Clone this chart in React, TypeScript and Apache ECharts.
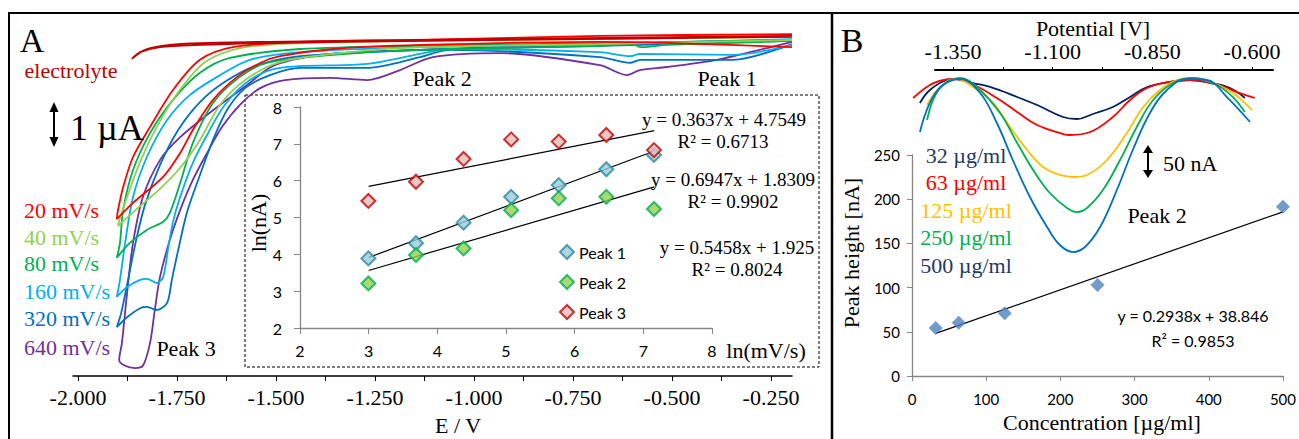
import { useEffect, useRef } from "react";
import * as echarts from "echarts";

type Pt = [number, number];

// ---------- Panel A: cyclic voltammograms, E (V) vs I (µA) ----------
const cvElectrolyte: Pt[] = [
  [-0.197, 0.07], [-1.136, -0.02], [-1.523, -0.07], [-1.692, -0.11], [-1.793, -0.16], [-1.843, -0.27], [-1.864, -0.42],
  [-1.831, -0.22], [-1.768, -0.11], [-1.692, -0.07], [-1.523, -0.04], [-1.136, 0], [-0.197, 0.09],
];
const cv20: Pt[] = [
  [-0.197, 0.13], [-0.682, 0.09], [-1.136, 0], [-1.439, -0.04], [-1.609, -0.16], [-1.692, -0.44], [-1.76, -1.11],
  [-1.818, -1.93], [-1.861, -2.6], [-1.886, -3.27], [-1.899, -3.78], [-1.902, -3.98],
  [-1.861, -3.62], [-1.785, -3.04], [-1.742, -2.51], [-1.71, -2.0], [-1.659, -1.33], [-1.598, -0.82], [-1.54, -0.51],
  [-1.49, -0.36], [-1.356, -0.2], [-1.136, -0.11], [-0.682, -0.04], [-0.197, -0.16],
];
const cv40: Pt[] = [
  [-0.197, 0.07], [-0.682, 0.02], [-1.136, -0.02], [-1.439, -0.07], [-1.591, -0.18], [-1.679, -0.49], [-1.747, -1.16],
  [-1.801, -1.93], [-1.843, -2.71], [-1.876, -3.49], [-1.894, -3.96], [-1.899, -4.13],
  [-1.843, -3.69], [-1.793, -3.31], [-1.742, -2.84], [-1.692, -2.22], [-1.641, -1.44], [-1.578, -0.89], [-1.49, -0.49],
  [-1.313, -0.27], [-1.136, -0.16], [-0.682, -0.09], [-0.197, 0],
];
const cv80: Pt[] = [
  [-0.197, 0], [-0.682, -0.07], [-1.136, -0.13], [-1.439, -0.2], [-1.616, -0.4], [-1.692, -0.73], [-1.76, -1.33],
  [-1.818, -2.07], [-1.861, -2.89], [-1.886, -3.78], [-1.894, -4.51], [-1.902, -4.84],
  [-1.869, -4.51], [-1.826, -4.22], [-1.785, -4.04], [-1.768, -3.84], [-1.742, -3.18], [-1.71, -2.29], [-1.659, -1.4],
  [-1.591, -0.82], [-1.523, -0.51], [-1.356, -0.33], [-1.136, -0.22], [-0.682, -0.13], [-0.598, -0.09],
  [-0.581, -0.16], [-0.513, -0.11], [-0.197, -0.02],
];
const cv160: Pt[] = [
  [-0.197, 0.02], [-0.682, -0.09], [-1.136, -0.16], [-1.439, -0.27], [-1.566, -0.44], [-1.641, -0.78], [-1.717, -1.22],
  [-1.775, -1.78], [-1.826, -2.6], [-1.861, -3.49], [-1.881, -4.51], [-1.894, -5.33], [-1.902, -5.71],
  [-1.876, -5.49], [-1.843, -5.33], [-1.826, -5.31], [-1.801, -5.4], [-1.785, -5.27], [-1.773, -4.67], [-1.76, -4.04],
  [-1.742, -3.49], [-1.71, -2.73], [-1.674, -2.11], [-1.629, -1.44], [-1.566, -0.89], [-1.49, -0.62], [-1.27, -0.53],
  [-1.136, -0.31], [-1.061, -0.2], [-0.682, -0.27], [-0.606, -0.36], [-0.581, -0.31], [-0.346, -0.33], [-0.197, -0.11],
];
const cv320: Pt[] = [
  [-0.197, -0.02], [-0.682, -0.13], [-1.136, -0.22], [-1.439, -0.36], [-1.553, -0.58], [-1.629, -0.93], [-1.692, -1.38],
  [-1.747, -2.0], [-1.793, -2.78], [-1.831, -3.67], [-1.856, -4.56], [-1.876, -5.44], [-1.891, -6.07], [-1.902, -6.38],
  [-1.876, -6.16], [-1.843, -5.96], [-1.826, -5.93], [-1.801, -6.0], [-1.775, -5.84], [-1.763, -5.33], [-1.747, -4.67],
  [-1.725, -3.84], [-1.692, -3.0], [-1.659, -2.22], [-1.624, -1.56], [-1.578, -1.07], [-1.515, -0.78], [-1.439, -0.62],
  [-1.27, -0.62], [-1.136, -0.38], [-1.061, -0.22], [-0.682, -0.38], [-0.606, -0.51], [-0.581, -0.44], [-0.346, -0.44],
  [-0.197, -0.09],
];
const cv640: Pt[] = [
  [-0.197, 0], [-0.682, -0.09], [-1.136, -0.22], [-1.364, -0.31], [-1.503, -0.56], [-1.573, -1.0], [-1.659, -1.56],
  [-1.742, -2.16], [-1.793, -2.67], [-1.836, -3.49], [-1.861, -4.51], [-1.876, -5.62], [-1.889, -6.73], [-1.896, -7.11],
  [-1.881, -7.24], [-1.856, -7.29], [-1.836, -7.24], [-1.818, -6.73], [-1.806, -6.0], [-1.793, -5.27], [-1.768, -4.44],
  [-1.742, -3.78], [-1.71, -3.11], [-1.674, -2.51], [-1.636, -1.93], [-1.591, -1.44], [-1.54, -1.07], [-1.477, -0.89],
  [-1.364, -0.84], [-1.27, -0.89], [-1.187, -0.67], [-1.104, -0.38], [-0.934, -0.29], [-0.682, -0.56], [-0.614, -0.78],
  [-0.581, -0.67], [-0.513, -0.6], [-0.386, -0.44], [-0.26, -0.18], [-0.197, -0.04],
];
const scanRateNames = ["640 mV/s", "320 mV/s", "160 mV/s", "80 mV/s", "40 mV/s", "20 mV/s", "electrolyte"];
const scanRateCurves = [cv640, cv320, cv160, cv80, cv40, cv20, cvElectrolyte];
const scanRateColors = ["#7030A0", "#0070C0", "#00B0F0", "#00B050", "#92D050", "#FF0000", "#C00000"];
const scanRateLabels = ["20 mV/s", "40 mV/s", "80 mV/s", "160 mV/s", "320 mV/s", "640 mV/s"];
const scanRateLabelColors = ["#FF0000", "#92D050", "#00B050", "#00B0F0", "#0070C0", "#7030A0"];
const potentialTicksA = [-2, -1.875, -1.75, -1.625, -1.5, -1.375, -1.25, -1.125, -1, -0.875, -0.75, -0.625, -0.5, -0.375, -0.25];
const potentialLabelsA = [-2, -1.75, -1.5, -1.25, -1, -0.75, -0.5, -0.25];

// ---------- Inset: ln(peak current) vs ln(scan rate) ----------
const lnScanRate = [2.996, 3.689, 4.382, 5.075, 5.768, 6.461, 7.155];
const lnPeak1 = [3.89, 4.3, 4.86, 5.56, 5.88, 6.31, 6.7];
const lnPeak2 = [3.21, 3.98, 4.16, 5.2, 5.52, 5.56, 5.23];
const lnPeak3 = [5.45, 5.97, 6.59, 7.12, 7.06, 7.24, 6.83];
const fitPeak1: Pt[] = [[3.0, 3.915], [7.16, 6.805]];
const fitPeak2: Pt[] = [[3.0, 3.562], [7.16, 5.833]];
const fitPeak3: Pt[] = [[3.0, 5.846], [7.16, 7.359]];

// ---------- Panel B: DPV curves, E (V) vs I (nA) ----------
const dpv32: Pt[] = [
  [-1.433, -35.9], [-1.408, -15.6], [-1.365, 0], [-1.34, 1.6], [-1.3, -4.7], [-1.257, -10.9], [-1.189, -26.6],
  [-1.139, -39.1], [-1.074, -57.8], [-1.039, -60.9], [-0.999, -53.1], [-0.949, -42.2], [-0.906, -26.6], [-0.863, -10.9],
  [-0.806, -3.1], [-0.756, 0], [-0.705, -4.7], [-0.655, -12.5], [-0.618, -28.1],
];
const dpv63: Pt[] = [
  [-1.45, -28.1], [-1.408, -7.8], [-1.375, 0], [-1.35, 1.6], [-1.307, -4.7], [-1.24, -28.1], [-1.189, -50],
  [-1.139, -70.3], [-1.074, -84.4], [-1.057, -85.9], [-1.006, -81.3], [-0.949, -57.8], [-0.906, -31.3], [-0.863, -12.5],
  [-0.806, -3.1], [-0.756, 0], [-0.698, -4.7], [-0.638, -18.8], [-0.593, -28.1],
];
const dpv125: Pt[] = [
  [-1.415, -39.1], [-1.39, -15.6], [-1.358, 0], [-1.34, 1.6], [-1.3, -10.9], [-1.25, -35.9], [-1.207, -73.4],
  [-1.164, -109.4], [-1.124, -135.9], [-1.082, -148.4], [-1.049, -151.6], [-1.014, -148.4], [-0.964, -125],
  [-0.914, -82.8], [-0.873, -42.2], [-0.831, -15.6], [-0.788, 0], [-0.748, 3.1], [-0.698, -4.7], [-0.648, -20.3],
  [-0.6, -46.9],
];
const dpv250: Pt[] = [
  [-1.415, -62.5], [-1.4, -31.3], [-1.375, -7.8], [-1.332, 3.1], [-1.29, -10.9], [-1.232, -51.6], [-1.189, -98.4],
  [-1.149, -140.6], [-1.107, -176.6], [-1.064, -200], [-1.039, -206.3], [-1.014, -200], [-0.974, -171.9],
  [-0.931, -125], [-0.889, -73.4], [-0.848, -31.3], [-0.798, -4.7], [-0.748, 3.1], [-0.688, -7.8], [-0.648, -26.6],
  [-0.618, -50],
];
const dpv500: Pt[] = [
  [-1.433, -81.3], [-1.408, -35.9], [-1.375, -7.8], [-1.332, 1.6], [-1.282, -20.3], [-1.24, -67.2], [-1.2, -125],
  [-1.157, -182.8], [-1.114, -229.7], [-1.082, -257.8], [-1.049, -268.8], [-1.019, -260.9], [-0.981, -229.7],
  [-0.939, -171.9], [-0.899, -109.4], [-0.856, -51.6], [-0.813, -15.6], [-0.763, 1.6], [-0.713, 0], [-0.663, -26.6],
  [-0.605, -65.6],
];
const dpvCurves = [dpv32, dpv63, dpv125, dpv250, dpv500];
const dpvColors = ["#002060", "#FF0000", "#FFC000", "#00B050", "#0070C0"];
const concLabels = ["32 µg/ml", "63 µg/ml", "125 µg/ml", "250 µg/ml", "500 µg/ml"];
const concLabelColors = ["#1F3864", "#FF0000", "#FFC000", "#00B050", "#1F3864"];
const potentialTicksB = [-1.35, -1.225, -1.1, -0.975, -0.85, -0.725, -0.6];
const potentialLabelsB = [-1.35, -1.1, -0.85, -0.6];

// ---------- Panel B: calibration ----------
const concentrations = [32, 63, 125, 250, 500];
const peakHeights = [54.3, 60.3, 70.9, 103, 191.5];
const fitCalibration: Pt[] = [[32, 48.2], [500, 185.7]];

const SERIF = '"Liberation Serif", "Times New Roman", serif';
const SANS = 'Lato, "Open Sans", sans-serif';
const GRAY = "#868686";

function txt(x: number, y: number, text: string, size: number, opts: any = {}) {
  return {
    type: "text",
    x,
    y,
    rotation: opts.rotation || 0,
    z: 50,
    style: {
      text,
      font: `${size}px ${opts.family || SERIF}`,
      fill: opts.color || "#000",
      align: opts.align || "center",
      verticalAlign: "middle",
      textAlign: opts.align || "center",
      textVerticalAlign: "middle",
    },
  };
}

function arrow(x: number, y1: number, y2: number, head: number, half: number) {
  return [
    { type: "line", z: 50, shape: { x1: x, y1: y1 + head - 1, x2: x, y2: y2 - head + 1 }, style: { stroke: "#000", lineWidth: 2 } },
    { type: "polygon", z: 50, shape: { points: [[x, y1], [x - half, y1 + head], [x + half, y1 + head]] }, style: { fill: "#000" } },
    { type: "polygon", z: 50, shape: { points: [[x, y2], [x - half, y2 - head], [x + half, y2 - head]] }, style: { fill: "#000" } },
  ];
}

export default function App() {
  const ref = useRef<HTMLDivElement>(null);
  useEffect(() => {
    if (!ref.current) return;
    const chart = echarts.init(ref.current, undefined, { renderer: "svg" });

    const series: any[] = [];
    scanRateCurves.forEach((d, i) => {
      series.push({
        name: scanRateNames[i],
        type: "line",
        xAxisIndex: 0,
        yAxisIndex: 0,
        data: d,
        showSymbol: false,
        smooth: 0.3,
        lineStyle: { color: scanRateColors[i], width: 1.8 },
        z: 3,
      });
    });
    [fitPeak1, fitPeak2, fitPeak3].forEach((d) => {
      series.push({
        type: "line", xAxisIndex: 1, yAxisIndex: 1, data: d, showSymbol: false,
        lineStyle: { color: "#000", width: 1.2 }, z: 4,
      });
    });
    const insetStyles = [
      { name: "Peak 1", data: lnPeak1, fill: "#93CDDD", border: "#31859C" },
      { name: "Peak 2", data: lnPeak2, fill: "#92D050", border: "#00B050" },
      { name: "Peak 3", data: lnPeak3, fill: "#E6B9B8", border: "#C00000" },
    ];
    insetStyles.forEach((s) => {
      series.push({
        name: s.name, type: "scatter", xAxisIndex: 1, yAxisIndex: 1,
        data: lnScanRate.map((x, i) => [x, s.data[i]]),
        symbol: "diamond", symbolSize: 14,
        itemStyle: { color: s.fill, borderColor: s.border, borderWidth: 2 }, z: 5,
      });
    });
    dpvCurves.forEach((d, i) => {
      series.push({
        type: "line", xAxisIndex: 2, yAxisIndex: 2, data: d, showSymbol: false, smooth: 0.4,
        lineStyle: { color: dpvColors[i], width: 1.8 }, z: 3,
      });
    });
    series.push({
      type: "line", xAxisIndex: 3, yAxisIndex: 3, data: fitCalibration, showSymbol: false,
      lineStyle: { color: "#000", width: 1.2 }, z: 4,
    });
    series.push({
      type: "scatter", xAxisIndex: 3, yAxisIndex: 3,
      data: concentrations.map((c, i) => [c, peakHeights[i]]),
      symbol: "diamond", symbolSize: 14, itemStyle: { color: "#4F81BD" }, z: 5,
    });

    const graphic: any[] = [
      // frames
      { type: "line", z: 60, shape: { x1: 8, y1: 13, x2: 1299, y2: 13 }, style: { stroke: "#000", lineWidth: 2 } },
      { type: "line", z: 60, shape: { x1: 9, y1: 13, x2: 9, y2: 439 }, style: { stroke: "#000", lineWidth: 2 } },
      { type: "line", z: 60, shape: { x1: 832, y1: 13, x2: 832, y2: 439 }, style: { stroke: "#000", lineWidth: 2.5 } },
      // inset frame
      { type: "rect", z: 1, shape: { x: 245, y: 95, width: 574, height: 272 }, style: { fill: "none", stroke: "#000", lineWidth: 1, lineDash: [3, 2] } },
      txt(32, 40, "A", 34),
      txt(71, 70, "electrolyte", 22, { color: "#C00000" }),
      txt(70, 128, "1 µA", 36, { align: "left" }),
      ...arrow(54, 102, 147, 10, 4.5),
      txt(442, 78, "Peak 2", 22),
      txt(727, 78, "Peak 1", 22),
      txt(186, 348, "Peak 3", 22),
      txt(458, 425, "E / V", 22),
      txt(258, 223, "ln(nA)", 22, { rotation: Math.PI / 2 }),
      txt(766, 350, "ln(mV/s)", 22),
      txt(724, 119, "y = 0.3637x + 4.7549", 19),
      txt(723, 141, "R² = 0.6713", 19),
      txt(733, 179, "y = 0.6947x + 1.8309", 19),
      txt(733, 201, "R² = 0.9902", 19),
      txt(737, 247, "y = 0.5458x + 1.925", 19),
      txt(737, 269, "R² = 0.8024", 19),
      // panel B
      txt(852, 40, "B", 34),
      txt(1093, 28, "Potential [V]", 22),
      txt(1163, 163, "50 nA", 22, { align: "left" }),
      ...arrow(1148, 145, 178, 8, 5),
      txt(1157, 215, "Peak 2", 22),
      txt(851, 253, "Peak height [nA]", 22, { rotation: Math.PI / 2 }),
      txt(1102, 422, "Concentration [µg/ml]", 22),
      txt(1193, 315, "y = 0.2938x + 38.846", 16, { family: SANS }),
      txt(1193, 340, "R² = 0.9853", 16, { family: SANS }),
    ];
    scanRateLabels.forEach((t, i) => {
      graphic.push(txt(24, [210, 237, 263, 291, 318, 347][i], t, 22, { align: "left", color: scanRateLabelColors[i] }));
    });
    concLabels.forEach((t, i) => {
      graphic.push(txt(966, [155, 182, 210, 237, 265][i], t, 22, { color: concLabelColors[i] }));
    });

    const grayAxis = { onZero: false, lineStyle: { color: GRAY, width: 1.3 } };

    chart.setOption({
      animation: false,
      backgroundColor: "#fff",
      grid: [
        { left: 73, top: 13, width: 719, height: 363 },
        { left: 300, top: 107, width: 412, height: 221 },
        // DPV curves (hidden axes, wider than the drawn top axis)
        { left: 905, top: 70, width: 360, height: 306 },
        { left: 912, top: 155, width: 375, height: 221 },
        // visible top potential axis of panel B
        { left: 935, top: 70, width: 338, height: 306 },
      ],
      xAxis: [
        {
          gridIndex: 0, type: "value", min: -2.0126, max: -0.1969,
          axisLine: { onZero: false, lineStyle: { color: "#000", width: 1.5 } },
          axisTick: { show: true, length: 5, customValues: potentialTicksA, lineStyle: { color: "#000" } },
          axisLabel: {
            customValues: potentialLabelsA, margin: 10, color: "#000", fontFamily: SERIF, fontSize: 22,
            formatter: (v: number) => v.toFixed(3),
          },
          splitLine: { show: false },
        },
        {
          gridIndex: 1, type: "value", min: 2, max: 8, interval: 1,
          axisLine: grayAxis, axisTick: { length: 6, lineStyle: { color: GRAY } },
          axisLabel: { margin: 14, color: "#000", fontFamily: SANS, fontSize: 16 },
          splitLine: { show: false },
        },
        { gridIndex: 2, type: "value", min: -1.4704, max: -0.5674, show: false },
        {
          gridIndex: 3, type: "value", min: 0, max: 500, interval: 100,
          axisLine: grayAxis, axisTick: { length: 5, lineStyle: { color: GRAY } },
          axisLabel: { margin: 15, color: "#000", fontFamily: SANS, fontSize: 15 },
          splitLine: { show: false },
        },
        {
          gridIndex: 4, type: "value", position: "top", min: -1.3951, max: -0.5473,
          axisLine: { onZero: false, lineStyle: { color: "#000", width: 2 } },
          axisTick: { show: true, length: 3, customValues: potentialTicksB, lineStyle: { color: "#000" } },
          axisLabel: {
            customValues: potentialLabelsB, margin: 8, color: "#000", fontFamily: SERIF, fontSize: 22,
            formatter: (v: number) => v.toFixed(3),
          },
          splitLine: { show: false },
        },
      ],
      yAxis: [
        { gridIndex: 0, type: "value", min: -7.467, max: 0.6, show: false },
        {
          gridIndex: 1, type: "value", min: 2, max: 8, interval: 1,
          axisLine: { show: true, ...grayAxis }, axisTick: { show: true, length: 6, lineStyle: { color: GRAY } },
          axisLabel: { margin: 18, color: "#000", fontFamily: SANS, fontSize: 16 },
          splitLine: { show: false },
        },
        { gridIndex: 2, type: "value", min: -462.5, max: 15.625, show: false },
        {
          gridIndex: 3, type: "value", min: 0, max: 250, interval: 50,
          axisLine: { show: true, ...grayAxis }, axisTick: { show: true, length: 5, lineStyle: { color: GRAY } },
          axisLabel: { margin: 12, color: "#000", fontFamily: SANS, fontSize: 15 },
          splitLine: { show: false },
        },
        { gridIndex: 4, type: "value", min: 0, max: 1, show: false },
      ],
      legend: {
        data: ["Peak 1", "Peak 2", "Peak 3"],
        orient: "vertical",
        left: 554,
        top: 239,
        itemGap: 14,
        itemWidth: 14,
        itemHeight: 14,
        icon: "diamond",
        textStyle: { fontFamily: SANS, fontSize: 16, color: "#000" },
      },
      series,
      graphic,
    });
    return () => chart.dispose();
  }, []);
  return <div ref={ref} style={{ position: "fixed", left: 0, top: 0, width: 1299, height: 439 }} />;
}
